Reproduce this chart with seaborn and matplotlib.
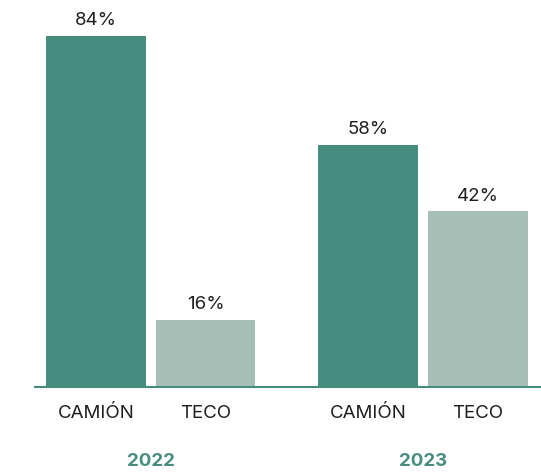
import pandas as pd
import matplotlib.pyplot as plt
import seaborn as sns
from matplotlib.transforms import blended_transform_factory

# data
years = ["2022", "2022", "2023", "2023"]
modes = ["CAMIÓN", "TECO", "CAMIÓN", "TECO"]
shares = [84, 16, 58, 42]

dark = "#468d80"
light = "#a5bfb7"
text_col = "#1f1f1f"

df = pd.DataFrame({"year": years, "mode": modes, "share": shares})

sns.set_style("white")
plt.rcParams["font.family"] = ["Inter", "DejaVu Sans"]

fig = plt.figure(figsize=(5.41, 4.75), dpi=100)
ax = fig.add_axes([35 / 541, 88 / 475, 506 / 541, 387 / 475])

sns.barplot(data=df, x="year", y="share", hue="mode",
            palette={"CAMIÓN": dark, "TECO": light},
            width=0.804, gap=0.087, saturation=1, linewidth=0,
            legend=False, ax=ax)

ax.set_xlim(-0.425, 1.433)
ax.set_ylim(0, 92.6)

for c in ax.containers:
    ax.bar_label(c, fmt="%d%%", padding=5, fontsize=13.5, color=text_col)

trans = blended_transform_factory(ax.transData, fig.transFigure)
for c, lab in zip(ax.containers, ["CAMIÓN", "TECO"]):
    for p in c.patches:
        cx = p.get_x() + p.get_width() / 2
        fig.text(cx, 1 - 414 / 475, lab, transform=trans, ha="center",
                 va="center", fontsize=13.5, color=text_col)

for i, y in enumerate(["2022", "2023"]):
    fig.text(i, 1 - 462 / 475, y, transform=trans, ha="center", va="center",
             fontsize=13.5, fontweight="bold", color=dark)

ax.set_xticks([])
ax.set_yticks([])
ax.set_xlabel("")
ax.set_ylabel("")
for s in ["top", "right", "left"]:
    ax.spines[s].set_visible(False)
ax.spines["bottom"].set_color(dark)
ax.spines["bottom"].set_linewidth(1.5)

fig.savefig("out.png", dpi=100)
